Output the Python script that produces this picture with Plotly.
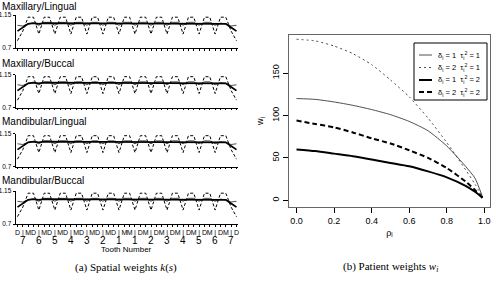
import plotly.graph_objects as go

# ---------------- data: spatial weights (left) ----------------
sites = list(range(1, 43))
site_labels = ["D", "|", "M"] * 7 + ["M", "|", "D"] * 7
tooth_centers = [2, 5, 8, 11, 14, 17, 20, 23, 26, 29, 32, 35, 38, 41]
tooth_numbers = ["7", "6", "5", "4", "3", "2", "1", "1", "2", "3", "4", "5", "6", "7"]
panel_titles = ["Maxillary/Lingual", "Maxillary/Buccal", "Mandibular/Lingual", "Mandibular/Buccal"]

k_thin = [1.01, 1.00, 1.03, 1.04, 1.01, 1.05, 1.05, 1.01, 1.05, 1.05, 1.01, 1.05, 1.05, 1.01,
          1.05, 1.05, 1.01, 1.05, 1.05, 1.01, 1.05, 1.05, 1.01, 1.05, 1.05, 1.01, 1.05, 1.05,
          1.01, 1.05, 1.05, 1.01, 1.05, 1.05, 1.01, 1.05, 1.05, 1.01, 1.04, 1.03, 1.00, 1.01]
k_thick = [0.93, 0.98, 1.03, 1.04, 1.03, 1.04, 1.04, 1.03, 1.04, 1.04, 1.03, 1.04, 1.04, 1.03,
           1.04, 1.04, 1.03, 1.04, 1.04, 1.03, 1.04, 1.04, 1.03, 1.04, 1.04, 1.03, 1.04, 1.04,
           1.03, 1.04, 1.04, 1.03, 1.04, 1.04, 1.03, 1.04, 1.04, 1.03, 1.04, 1.03, 0.98, 0.93]
k_dash = [0.80, 0.93, 1.12, 1.12, 0.89, 1.12, 1.12, 0.89, 1.12, 1.12, 0.89, 1.12, 1.12, 0.89,
          1.12, 1.12, 0.89, 1.12, 1.12, 0.89, 1.12, 1.12, 0.89, 1.12, 1.12, 0.89, 1.12, 1.12,
          0.89, 1.12, 1.12, 0.89, 1.12, 1.12, 0.89, 1.12, 1.12, 0.89, 1.12, 1.12, 0.93, 0.80]

# ---------------- data: patient weights (right) ----------------
rho = [0.0, 0.1, 0.2, 0.3, 0.4, 0.5, 0.6, 0.7, 0.8, 0.9, 0.95, 0.99]
w_d1_t1 = [120, 119, 116, 112, 107, 101, 93, 82, 64, 40, 26, 4]
w_d2_t1 = [190, 188, 182, 173, 160, 142, 122, 97, 68, 36, 19, 4]
w_d1_t2 = [60, 58, 55, 52, 48, 44, 40, 34, 27, 17, 10, 3]
w_d2_t2 = [94, 90, 86, 80, 73, 67, 59, 50, 38, 22, 12, 3]
legend_names = ["δ<sub>i</sub> = 1  τ<sub>i</sub><sup>2</sup> = 1",
                "δ<sub>i</sub> = 2  τ<sub>i</sub><sup>2</sup> = 1",
                "δ<sub>i</sub> = 1  τ<sub>i</sub><sup>2</sup> = 2",
                "δ<sub>i</sub> = 2  τ<sub>i</sub><sup>2</sup> = 2"]

W, H = 496, 281
FONT = "Liberation Sans, Arial, sans-serif"
SERIF = "Liberation Serif, DejaVu Serif, serif"


def py(px):
    return 1 - px / H


def pxx(px):
    return px / W


fig = go.Figure()

# left panel geometry (pixel rows of 1.15 / 0.7)
panel_rows = [(15, 48), (74.5, 107.5), (133.5, 166.5), (191, 224)]
title_rows = [6, 63, 122, 180]
for i in range(4):
    ax = "" if i == 0 else str(i + 1)
    xr, yr = "x" + ax, "y" + ax
    fig.add_trace(go.Scatter(x=sites, y=k_thin, mode="lines", xaxis=xr, yaxis=yr,
                             line=dict(color="#222", width=0.8), showlegend=False))
    fig.add_trace(go.Scatter(x=sites, y=k_thick, mode="lines", xaxis=xr, yaxis=yr,
                             line=dict(color="black", width=1.8), showlegend=False))
    fig.add_trace(go.Scatter(x=sites, y=k_dash, mode="lines", xaxis=xr, yaxis=yr,
                             line=dict(color="black", width=1, dash="3px,2px"), showlegend=False))
    top, bot = panel_rows[i]
    fig.layout["xaxis" + ax] = dict(
        domain=[pxx(15.5), pxx(237.5)], range=[0.63, 42.19], anchor=yr, automargin=False,
        showgrid=False, zeroline=False, showline=True, linecolor="black", linewidth=0.8,
        ticks="outside", ticklen=2, tickwidth=0.8, tickcolor="black",
        tickmode="array", tickvals=sites, ticktext=site_labels, tickangle=0,
        showticklabels=(i == 3), tickfont=dict(family=FONT, size=7, color="black"))
    fig.layout["yaxis" + ax] = dict(
        domain=[py(bot), py(top)], range=[0.7, 1.15], anchor=xr, automargin=False,
        showgrid=False, zeroline=False, showline=True, linecolor="black", linewidth=0.8,
        ticks="outside", ticklen=2, tickwidth=0.8, tickcolor="black",
        tickmode="array", tickvals=[0.7, 1.15], ticktext=["0.7", "1.15"],
        tickfont=dict(family=FONT, size=6.5, color="black"))
    fig.add_annotation(text=panel_titles[i], xref="paper", yref="paper", x=0, y=py(title_rows[i]),
                       xanchor="left", yanchor="middle", showarrow=False,
                       font=dict(family=FONT, size=10, color="black"))

for tc, tn in zip(tooth_centers, tooth_numbers):
    fig.add_annotation(text=tn, xref="x4", yref="paper", x=tc, y=py(240), showarrow=False,
                       xanchor="center", yanchor="middle",
                       font=dict(family=FONT, size=10, color="black"))
fig.add_annotation(text="Tooth Number", xref="paper", yref="paper", x=pxx(126.5), y=py(249.5),
                   showarrow=False, xanchor="center", yanchor="middle",
                   font=dict(family=FONT, size=8, color="black"))

# right panel
styles = [dict(color="#222", width=0.8),
          dict(color="#222", width=0.8, dash="2px,3px"),
          dict(color="black", width=2),
          dict(color="black", width=2, dash="5px,3px")]
for ys, st, nm in zip([w_d1_t1, w_d2_t1, w_d1_t2, w_d2_t2], styles, legend_names):
    fig.add_trace(go.Scatter(x=rho, y=ys, mode="lines", xaxis="x5", yaxis="y5",
                             line=dict(shape="spline", smoothing=0.6, **st), name=nm,
                             showlegend=False))

# compact legend box (R style)
legend_box = (414, 43, 487, 100)
legend_rows = [55, 67.5, 80, 92]
fig.add_shape(type="rect", xref="paper", yref="paper",
              x0=pxx(legend_box[0]), x1=pxx(legend_box[2]),
              y0=py(legend_box[3]), y1=py(legend_box[1]),
              line=dict(color="black", width=1), fillcolor="white", layer="above")
for st, nm, row in zip(styles, legend_names, legend_rows):
    fig.add_shape(type="line", xref="paper", yref="paper",
                  x0=pxx(419), x1=pxx(432), y0=py(row), y1=py(row),
                  line=st, layer="above")
    fig.add_annotation(text=nm, xref="paper", yref="paper", x=pxx(436), y=py(row),
                       xanchor="left", yanchor="middle", showarrow=False,
                       font=dict(family=FONT, size=7.5, color="black"))

fig.layout["xaxis5"] = dict(
    domain=[pxx(289), pxx(490)], range=[-0.04, 1.03], anchor="y5", automargin=False,
    showgrid=False, zeroline=False, showline=True, mirror=True, linecolor="#666", linewidth=1,
    ticks="outside", ticklen=5, tickwidth=0.8, tickcolor="black",
    tickmode="array", tickvals=[0, 0.2, 0.4, 0.6, 0.8, 1.0],
    ticktext=["0.0", "0.2", "0.4", "0.6", "0.8", "1.0"],
    tickfont=dict(family=FONT, size=9, color="black"),
    title=dict(text="ρ<sub>i</sub>", font=dict(family=FONT, size=9, color="black"), standoff=4))
fig.layout["yaxis5"] = dict(
    domain=[py(207), py(35)], range=[-8, 195], anchor="x5", automargin=False,
    showgrid=False, zeroline=False, showline=True, mirror=True, linecolor="#666", linewidth=1,
    ticks="outside", ticklen=5, tickwidth=0.8, tickcolor="black",
    tickmode="array", tickvals=[0, 50, 100, 150], ticktext=["0", "50", "100", "150"],
    tickangle=-90, tickfont=dict(family=FONT, size=9, color="black"),
    title=dict(text="w<sub>i</sub>", font=dict(family=FONT, size=9, color="black"), standoff=6))

fig.add_annotation(text="(a) Spatial weights <i>k</i>(<i>s</i>)", xref="paper", yref="paper",
                   x=pxx(126), y=py(267), showarrow=False, xanchor="center", yanchor="middle",
                   font=dict(family=SERIF, size=11, color="black"))
fig.add_annotation(text="(b) Patient weights <i>w<sub>i</sub></i>", xref="paper", yref="paper",
                   x=pxx(390), y=py(267), showarrow=False, xanchor="center", yanchor="middle",
                   font=dict(family=SERIF, size=11, color="black"))

fig.update_layout(
    width=W, height=H, margin=dict(l=0, r=0, t=0, b=0, autoexpand=False),
    paper_bgcolor="white", plot_bgcolor="white", showlegend=False,
)

fig.write_html("out.html", config={"displayModeBar": False},
               post_script="document.body.style.margin='0px';")
